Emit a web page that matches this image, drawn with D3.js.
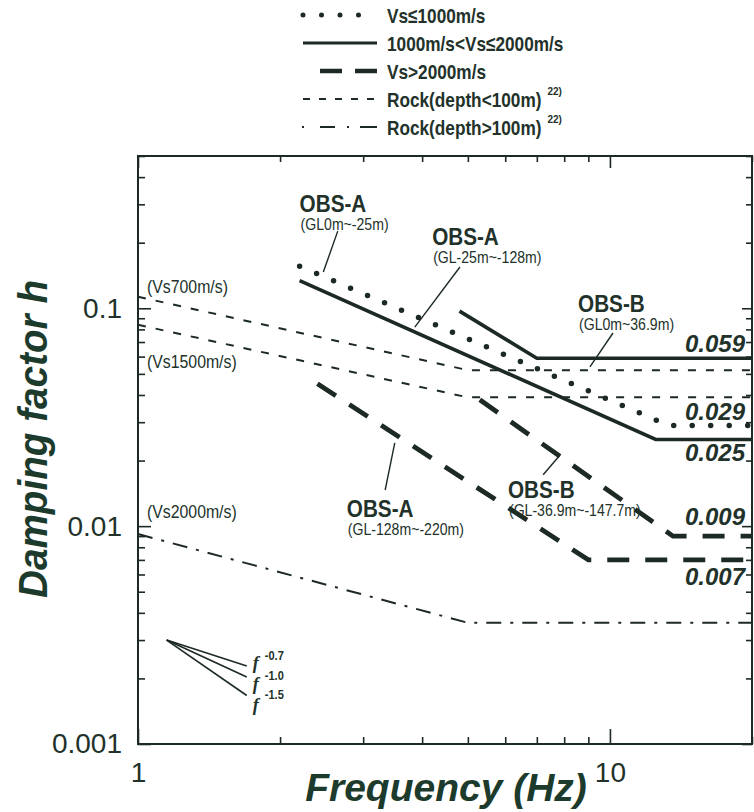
<!DOCTYPE html>
<html>
<head>
<meta charset="utf-8">
<script src="https://cdn.jsdelivr.net/npm/d3@7"></script>
<style>
  body { margin: 0; background: #fff; }
  svg { display: block; }
</style>
</head>
<body>
<div id="chart"></div>
<script>

// values (frequency Hz / damping factor h)
var freqTicks = [1, 10];
var dampTicks = [0.001, 0.01, 0.1];

// Vs<=1000m/s  OBS-A (GL0m~-25m)
var obsA1_f = [2.2, 13.3, 20];
var obsA1_h = [0.156, 0.029, 0.029];
// 1000<Vs<=2000  OBS-A (GL-25m~-128m)
var obsA2_f = [2.2, 12.5, 20];
var obsA2_h = [0.134, 0.025, 0.025];
// 1000<Vs<=2000  OBS-B (GL0m~36.9m)
var obsB1_f = [4.8, 7.0, 20];
var obsB1_h = [0.097, 0.059, 0.059];
// Vs>2000  OBS-A (GL-128m~-220m)
var obsA3_f = [2.4, 9.0, 20];
var obsA3_h = [0.045, 0.007, 0.007];
// Vs>2000  OBS-B (GL-36.9m~-147.7m)
var obsB2_f = [5.3, 13.6, 20];
var obsB2_h = [0.038, 0.009, 0.009];
// rock lines
var rock700_f = [1, 5, 20];
var rock700_h = [0.113, 0.052, 0.052];
var rock1500_f = [1, 5, 20];
var rock1500_h = [0.084, 0.039, 0.039];
var rock2000_f = [1, 5, 20];
var rock2000_h = [0.0092, 0.0036, 0.0036];

var flatValues = [0.059, 0.029, 0.025, 0.009, 0.007];

var legendLabels = ["Vs\u22641000m/s", "1000m/s<Vs\u22642000m/s", "Vs>2000m/s", "Rock(depth<100m)", "Rock(depth>100m)"];
var legendRefs = ["", "", "", "22)", "22)"];

var obsNames = ["OBS-A", "OBS-A", "OBS-B", "OBS-A", "OBS-B"];
var obsDepths = ["(GL0m~-25m)", "(GL-25m~-128m)", "(GL0m~36.9m)", "(GL-128m~-220m)", "(GL-36.9m~-147.7m)"];
var obsLabel_f = [2.20, 4.20, 8.56, 2.77, 6.08];
var obsLabel_h = [0.277, 0.195, 0.0961, 0.0110, 0.01346];
// leader lines (from label to curve)
var leader_f1 = [2.65, 4.81, 10.15, 3.50, 7.22];
var leader_h1 = [0.226, 0.1547, 0.0770, 0.0241, 0.0172];
var leader_f2 = [2.47, 3.86, 9.07, 3.34, 7.84];
var leader_h2 = [0.1467, 0.0820, 0.0538, 0.01465, 0.0212];

var rockLabels = ["(Vs700m/s)", "(Vs1500m/s)", "(Vs2000m/s)"];

var slopeExps = [-0.7, -1.0, -1.5];
var slopeFrom_f = 1.15, slopeFrom_h = 0.003, slopeTo_f = 1.7;

// -----------------------------------------------------------
var width = 754, height = 812;
var margin = {top: 156, right: 2, bottom: 68, left: 138};
var ink = "#1c2a23";
var textInk = "#22322a";
var titleInk = "#1d3b2c";
var sans = "'Liberation Sans', Arial, Helvetica, sans-serif";

var svg = d3.select("#chart").append("svg")
    .attr("width", width)
    .attr("height", height);

var x = d3.scaleLog().domain([1, 20]).range([margin.left, width - margin.right]);
var y = d3.scaleLog().domain([0.001, 0.5]).range([height - margin.bottom, margin.top]);

// squeeze a text horizontally (the figure uses a condensed face)
function condense(sel, k) {
  sel.each(function() {
    var t = d3.select(this);
    var tx = +t.attr("x"), ty = +t.attr("y");
    t.attr("x", 0).attr("y", 0)
     .attr("transform", "translate(" + tx + "," + ty + ") scale(" + k + ",1)");
  });
}
// width of a text after condense
function squeezedWidth(node, k) {
  return node.getComputedTextLength() * k;
}

// styles for the curve types
var styles = {
  dotted:    {w: 5.5, dash: "0 18.5", cap: "round"},
  solid:     {w: 3.6, dash: null, cap: "butt"},
  longdash:  {w: 4.8, dash: "22 16", cap: "butt"},
  shortdash: {w: 2, dash: "8 10", cap: "butt"},
  dashdot:   {w: 2, dash: "15 9 3 9", cap: "butt"}
};

var series = [
  {f: rock700_f, h: rock700_h, s: "shortdash"},
  {f: rock1500_f, h: rock1500_h, s: "shortdash"},
  {f: rock2000_f, h: rock2000_h, s: "dashdot"},
  {f: obsA1_f, h: obsA1_h, s: "dotted"},
  {f: obsA2_f, h: obsA2_h, s: "solid"},
  {f: obsB1_f, h: obsB1_h, s: "solid"},
  {f: obsA3_f, h: obsA3_h, s: "longdash"},
  {f: obsB2_f, h: obsB2_h, s: "longdash"}
];

// ---- axes (ticks inward on all four sides)
function minorTicks(lo, hi, decades) {
  var out = [];
  decades.forEach(function(d) {
    for (var k = 2; k <= 9; k++) {
      var v = d * k;
      if (v >= lo && v <= hi) out.push(v);
    }
  });
  return out;
}
var yMinor = minorTicks(0.001, 0.5, dampTicks);
var xMinor = minorTicks(1, 20, freqTicks);

var axisG = svg.append("g").attr("class", "axes");

function styleAxis(g) {
  g.select(".domain").remove();
  g.selectAll("line").attr("stroke", ink).attr("stroke-width", 1.6);
}

// left
axisG.append("g").attr("transform", "translate(" + margin.left + ",0)")
  .call(d3.axisLeft(y).tickValues(dampTicks).tickSize(-13).tickPadding(16)
        .tickFormat(d3.format("")))
  .call(styleAxis)
  .selectAll("text")
    .attr("font-family", sans).attr("font-size", 28).attr("fill", textInk);
axisG.append("g").attr("transform", "translate(" + margin.left + ",0)")
  .call(d3.axisLeft(y).tickValues(yMinor).tickSize(-7).tickFormat(""))
  .call(styleAxis);

// right
axisG.append("g").attr("transform", "translate(" + (width - margin.right) + ",0)")
  .call(d3.axisRight(y).tickValues(dampTicks).tickSize(-10).tickFormat(""))
  .call(styleAxis);
axisG.append("g").attr("transform", "translate(" + (width - margin.right) + ",0)")
  .call(d3.axisRight(y).tickValues(yMinor).tickSize(-6).tickFormat(""))
  .call(styleAxis);

// bottom
axisG.append("g").attr("transform", "translate(0," + (height - margin.bottom) + ")")
  .call(d3.axisBottom(x).tickValues(freqTicks).tickSize(-15).tickPadding(18)
        .tickFormat(d3.format("")))
  .call(styleAxis)
  .selectAll("text")
    .attr("font-family", sans).attr("font-size", 28).attr("fill", textInk);
axisG.append("g").attr("transform", "translate(0," + (height - margin.bottom) + ")")
  .call(d3.axisBottom(x).tickValues(xMinor).tickSize(-7).tickFormat(""))
  .call(styleAxis);

// top
axisG.append("g").attr("transform", "translate(0," + margin.top + ")")
  .call(d3.axisTop(x).tickValues(freqTicks).tickSize(-12).tickFormat(""))
  .call(styleAxis);
axisG.append("g").attr("transform", "translate(0," + margin.top + ")")
  .call(d3.axisTop(x).tickValues(xMinor).tickSize(-6).tickFormat(""))
  .call(styleAxis);

// frame
svg.append("rect")
  .attr("x", margin.left).attr("y", margin.top)
  .attr("width", width - margin.left - margin.right)
  .attr("height", height - margin.top - margin.bottom)
  .attr("fill", "none").attr("stroke", ink).attr("stroke-width", 2);

// ---- curves
var line = d3.line()
  .x(function(d) { return x(d[0]); })
  .y(function(d) { return y(d[1]); });

svg.append("g").selectAll("path")
  .data(series)
  .enter().append("path")
    .attr("d", function(d) { return line(d3.zip(d.f, d.h)); })
    .attr("fill", "none")
    .attr("stroke", ink)
    .attr("stroke-width", function(d) { return styles[d.s].w; })
    .attr("stroke-dasharray", function(d) { return styles[d.s].dash; })
    .attr("stroke-linecap", function(d) { return styles[d.s].cap; });

// ---- flat value labels at the right
var fmt3 = d3.format(".3f");
var flatOffsets = [-6, -5, 22, -11, 25];
svg.append("g").selectAll("text")
  .data(flatValues)
  .enter().append("text")
    .attr("x", width - 9)
    .attr("y", function(d, i) { return y(d) + flatOffsets[i]; })
    .attr("text-anchor", "end")
    .attr("font-family", sans).attr("font-size", 24)
    .attr("font-weight", "bold").attr("font-style", "italic")
    .attr("fill", textInk)
    .text(fmt3);

// ---- OBS labels with leader lines
var obsG = svg.append("g");
obsNames.forEach(function(name, i) {
  var lx = x(obsLabel_f[i]), ly = y(obsLabel_h[i]);
  obsG.append("text")
    .attr("x", lx).attr("y", ly)
    .attr("font-family", sans).attr("font-size", 23).attr("font-weight", "bold")
    .attr("fill", textInk)
    .text(name)
    .call(condense, 0.9);
  obsG.append("text")
    .attr("x", lx + 1).attr("y", ly + 18)
    .attr("font-family", sans).attr("font-size", 16)
    .attr("fill", textInk)
    .text(obsDepths[i])
    .call(condense, 0.88);
  obsG.append("line")
    .attr("x1", x(leader_f1[i])).attr("y1", y(leader_h1[i]))
    .attr("x2", x(leader_f2[i])).attr("y2", y(leader_h2[i]))
    .attr("stroke", ink).attr("stroke-width", 1.4);
});

// ---- rock curve labels
var rockStart = [rock700_h[0], rock1500_h[0], rock2000_h[0]];
var rockOffsets = [-4, 43, -16];
svg.append("g").selectAll("text")
  .data(rockLabels)
  .enter().append("text")
    .attr("x", x(1) + 9)
    .attr("y", function(d, i) { return y(rockStart[i]) + rockOffsets[i]; })
    .attr("font-family", sans).attr("font-size", 18)
    .attr("fill", textInk)
    .text(function(d) { return d; })
    .call(condense, 0.88);

// ---- slope guide f^-0.7, f^-1.0, f^-1.5
var slopeG = svg.append("g");
var ox = x(slopeFrom_f), oy = y(slopeFrom_h);
slopeExps.forEach(function(p, i) {
  var hEnd = slopeFrom_h * Math.pow(slopeTo_f / slopeFrom_f, p);
  slopeG.append("line")
    .attr("x1", ox).attr("y1", oy)
    .attr("x2", x(slopeTo_f)).attr("y2", y(hEnd))
    .attr("stroke", ink).attr("stroke-width", 1.6);
  slopeG.append("text")
    .attr("x", x(slopeTo_f) + 6).attr("y", oy + 29 + i * 21)
    .attr("font-family", "'Liberation Serif', 'Times New Roman', serif")
    .attr("font-size", 18).attr("font-weight", "bold").attr("font-style", "italic")
    .attr("fill", textInk)
    .text("f");
  slopeG.append("text")
    .attr("x", x(slopeTo_f) + 18).attr("y", oy + 20 + i * 19.5)
    .attr("font-family", sans).attr("font-size", 13).attr("font-weight", "bold")
    .attr("fill", textInk)
    .text(d3.format(".1f")(p).replace("\u2212", "-"))
    .call(condense, 0.85);
});

// ---- axis titles
svg.append("text")
  .attr("transform", "translate(47,439) rotate(-90)")
  .attr("text-anchor", "middle")
  .attr("font-family", sans).attr("font-size", 40)
  .attr("font-weight", "bold").attr("font-style", "italic")
  .attr("textLength", 318).attr("lengthAdjust", "spacingAndGlyphs")
  .attr("fill", titleInk)
  .text("Damping factor h");

svg.append("text")
  .attr("x", 446).attr("y", 801)
  .attr("text-anchor", "middle")
  .attr("font-family", sans).attr("font-size", 39)
  .attr("font-weight", "bold").attr("font-style", "italic")
  .attr("fill", titleInk)
  .text("Frequency (Hz)");

// ---- legend
var legendStyles = [
  {w: 5, dash: "0 18.5", cap: "round", x0: 303},
  {w: 3.2, dash: null, cap: "butt", x0: 303},
  {w: 4.5, dash: "22 13", cap: "butt", x0: 320},
  {w: 2, dash: "7 9", cap: "butt", x0: 303},
  {w: 2, dash: "2 16 15 12 2 11 17", cap: "butt", x0: 302}
];
var legend = svg.append("g").attr("class", "legend");
legendLabels.forEach(function(label, i) {
  var ly = 15 + i * 28;
  var st = legendStyles[i];
  legend.append("line")
    .attr("x1", st.x0).attr("x2", 377).attr("y1", ly).attr("y2", ly)
    .attr("stroke", ink).attr("stroke-width", st.w)
    .attr("stroke-dasharray", st.dash).attr("stroke-linecap", st.cap);
  var t = legend.append("text")
    .attr("x", 387).attr("y", ly + 8)
    .attr("font-family", sans).attr("font-size", 21).attr("font-weight", "bold")
    .attr("fill", textInk)
    .text(label)
    .call(condense, 0.82);
  if (legendRefs[i]) {
    var tw = squeezedWidth(t.node(), 0.82);
    legend.append("text")
      .attr("x", 387 + tw + 6).attr("y", ly - 4)
      .attr("font-family", sans).attr("font-size", 10).attr("font-weight", "bold")
      .attr("fill", textInk)
      .text(legendRefs[i]);
  }
});

</script>
</body>
</html>
